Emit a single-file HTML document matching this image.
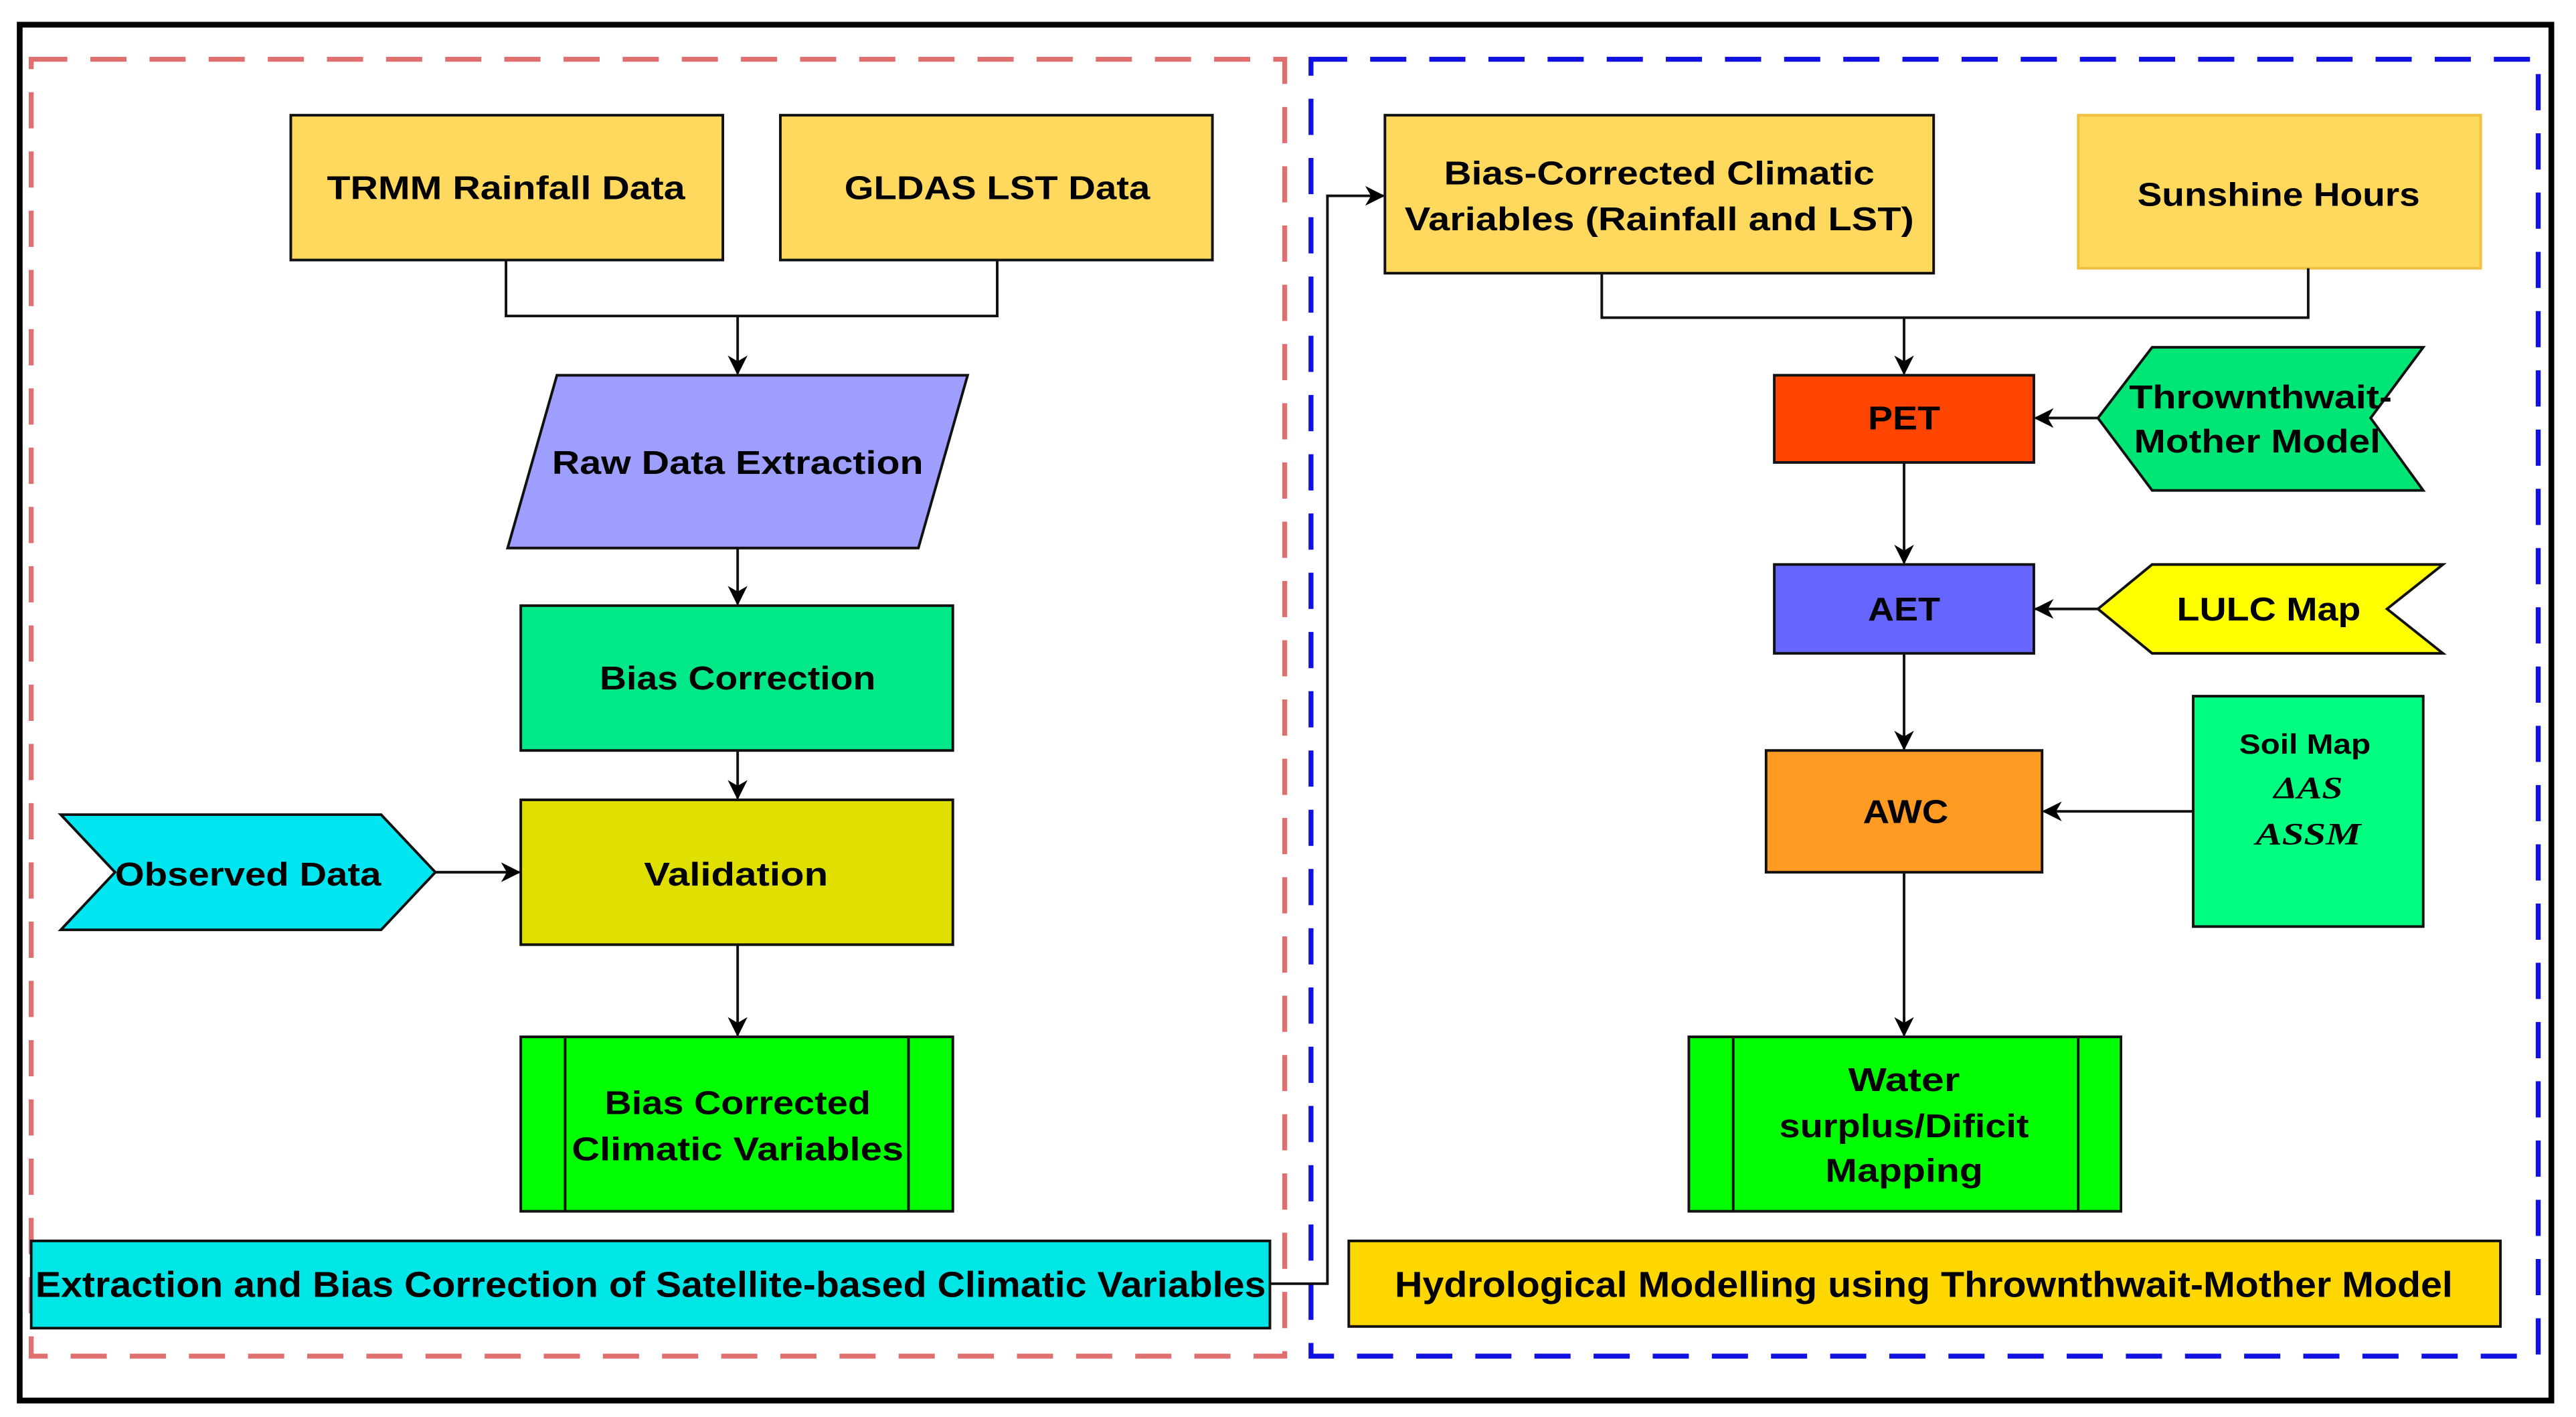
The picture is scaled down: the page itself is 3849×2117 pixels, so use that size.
<!DOCTYPE html>
<html><head><meta charset="utf-8"><style>
html,body{margin:0;padding:0;background:#fff;}
svg{display:block;}
text{font-family:"Liberation Sans",sans-serif;font-weight:bold;fill:#000;}
</style></head><body>
<svg width="3849" height="2117" viewBox="0 0 1568 861" preserveAspectRatio="none" xmlns="http://www.w3.org/2000/svg">
<defs>
<marker id="a" markerWidth="12" markerHeight="12" refX="11" refY="6" orient="auto" markerUnits="userSpaceOnUse">
<path d="M0,0 L12,6 L0,12 L3.5,6 Z" fill="#000"/>
</marker>
</defs>
<rect x="0" y="0" width="1568" height="861" fill="#fff"/>
<rect x="12" y="15" width="1541" height="836" fill="none" stroke="#000" stroke-width="3.5"/>
<rect x="19" y="36" width="763" height="788" fill="none" stroke="#e07070" stroke-width="3" stroke-dasharray="22,14"/>
<rect x="798" y="36" width="747" height="788" fill="none" stroke="#1010e0" stroke-width="3" stroke-dasharray="22,14"/>

<g stroke="#111" stroke-width="1.6">
<rect x="177" y="70" width="263" height="88" fill="#ffd95e"/>
<rect x="475" y="70" width="263" height="88" fill="#ffd95e"/>
<polyline points="308,158 308,192 607,192 607,158" fill="none"/>
<line x1="449" y1="192" x2="449" y2="227" marker-end="url(#a)"/>
<polygon points="339,228 589,228 559,333 309,333" fill="#9e9eff"/>
<line x1="449" y1="333" x2="449" y2="367" marker-end="url(#a)"/>
<rect x="317" y="368" width="263" height="88" fill="#00e887"/>
<line x1="449" y1="456" x2="449" y2="485" marker-end="url(#a)"/>
<rect x="317" y="486" width="263" height="88" fill="#e0e000"/>
<polygon points="37,495 232,495 265,530 232,565 37,565 70,530" fill="#00e6f0"/>
<line x1="265" y1="530" x2="316" y2="530" marker-end="url(#a)"/>
<line x1="449" y1="574" x2="449" y2="629" marker-end="url(#a)"/>
<rect x="317" y="630" width="263" height="106" fill="#00ff00"/>
<line x1="344" y1="630" x2="344" y2="736"/>
<line x1="553" y1="630" x2="553" y2="736"/>
<rect x="19" y="754" width="754" height="53" fill="#00e5e5"/>
<polyline points="773,780 808,780 808,119 842,119" fill="none" marker-end="url(#a)"/>
<rect x="843" y="70" width="334" height="96" fill="#ffd95e"/>
<rect x="1265" y="70" width="245" height="93" fill="#ffd95e" stroke="#f0c040"/>
<polyline points="975,166 975,193 1405,193 1405,163" fill="none"/>
<line x1="1159" y1="193" x2="1159" y2="227" marker-end="url(#a)"/>
<rect x="1080" y="228" width="158" height="53" fill="#ff4500"/>
<polygon points="1277,254 1310,211 1475,211 1443,254 1475,298 1310,298" fill="#00e676"/>
<line x1="1277" y1="254" x2="1239" y2="254" marker-end="url(#a)"/>
<line x1="1159" y1="281" x2="1159" y2="342" marker-end="url(#a)"/>
<rect x="1080" y="343" width="158" height="54" fill="#6666ff"/>
<polygon points="1277,370 1310,343 1487,343 1453,370 1487,397 1310,397" fill="#ffff00"/>
<line x1="1277" y1="370" x2="1239" y2="370" marker-end="url(#a)"/>
<line x1="1159" y1="397" x2="1159" y2="455" marker-end="url(#a)"/>
<rect x="1075" y="456" width="168" height="74" fill="#ff9a22"/>
<rect x="1335" y="423" width="140" height="140" fill="#00ff80"/>
<line x1="1335" y1="493" x2="1244" y2="493" marker-end="url(#a)"/>
<line x1="1159" y1="530" x2="1159" y2="629" marker-end="url(#a)"/>
<rect x="1028" y="630" width="263" height="106" fill="#00ff00"/>
<line x1="1055" y1="630" x2="1055" y2="736"/>
<line x1="1265" y1="630" x2="1265" y2="736"/>
<rect x="821" y="754" width="701" height="52" fill="#ffd700"/>
</g>

<g font-size="20" text-anchor="middle">
<text x="308" y="121" textLength="218" lengthAdjust="spacingAndGlyphs">TRMM Rainfall Data</text>
<text x="607" y="121" textLength="186" lengthAdjust="spacingAndGlyphs">GLDAS LST Data</text>
<text x="449" y="288" textLength="226" lengthAdjust="spacingAndGlyphs">Raw Data Extraction</text>
<text x="449" y="419" textLength="168" lengthAdjust="spacingAndGlyphs">Bias Correction</text>
<text x="448" y="538" textLength="112" lengthAdjust="spacingAndGlyphs">Validation</text>
<text x="151" y="538" textLength="162" lengthAdjust="spacingAndGlyphs">Observed Data</text>
<text x="449" y="677" textLength="162" lengthAdjust="spacingAndGlyphs">Bias Corrected</text>
<text x="449" y="705" textLength="202" lengthAdjust="spacingAndGlyphs">Climatic Variables</text>
<text x="396" y="788" font-size="22" textLength="749" lengthAdjust="spacingAndGlyphs">Extraction and Bias Correction of Satellite-based Climatic Variables</text>
<text x="1010" y="112" textLength="262" lengthAdjust="spacingAndGlyphs">Bias-Corrected Climatic</text>
<text x="1010" y="140" textLength="310" lengthAdjust="spacingAndGlyphs">Variables (Rainfall and LST)</text>
<text x="1387" y="125" textLength="172" lengthAdjust="spacingAndGlyphs">Sunshine Hours</text>
<text x="1159" y="261" textLength="44" lengthAdjust="spacingAndGlyphs">PET</text>
<text x="1376" y="248" textLength="160" lengthAdjust="spacingAndGlyphs" fill="#2a0000">Thrownthwait-</text>
<text x="1374" y="275" textLength="150" lengthAdjust="spacingAndGlyphs" fill="#2a0000">Mother Model</text>
<text x="1159" y="377" textLength="44" lengthAdjust="spacingAndGlyphs">AET</text>
<text x="1381" y="377" textLength="112" lengthAdjust="spacingAndGlyphs">LULC Map</text>
<text x="1160" y="500" textLength="52" lengthAdjust="spacingAndGlyphs">AWC</text>
<text x="1403" y="458" font-size="17" textLength="80" lengthAdjust="spacingAndGlyphs">Soil Map</text>
<text x="1405" y="485" style="font-family:'Liberation Serif',serif;font-style:italic;font-size:19px" textLength="42" lengthAdjust="spacingAndGlyphs">ΔAS</text>
<text x="1405" y="513" style="font-family:'Liberation Serif',serif;font-style:italic;font-size:19px" textLength="64" lengthAdjust="spacingAndGlyphs">ASSM</text>
<text x="1159" y="663" textLength="68" lengthAdjust="spacingAndGlyphs">Water</text>
<text x="1159" y="691" textLength="152" lengthAdjust="spacingAndGlyphs">surplus/Dificit</text>
<text x="1159" y="718" textLength="96" lengthAdjust="spacingAndGlyphs">Mapping</text>
<text x="1171" y="788" font-size="22" textLength="644" lengthAdjust="spacingAndGlyphs" fill="#1a0a00">Hydrological Modelling using Thrownthwait-Mother Model</text>
</g>
</svg>
</body></html>
